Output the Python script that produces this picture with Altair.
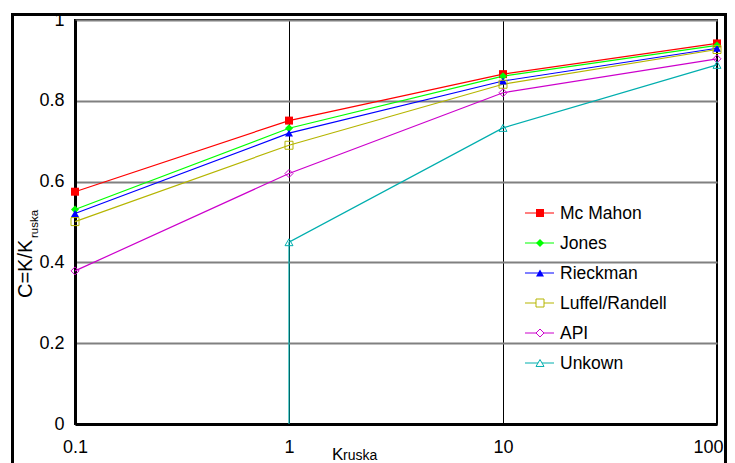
import altair as alt
import pandas as pd

# ---- data ----
kruska = [0.1, 1, 10, 100]
series = ["Mc Mahon", "Jones", "Rieckman", "Luffel/Randell", "API", "Unkown"]
mcmahon = [0.575, 0.751, 0.866, 0.942]
jones = [0.531, 0.732, 0.861, 0.937]
rieckman = [0.521, 0.720, 0.849, 0.930]
luffel = [0.501, 0.690, 0.841, 0.927]
api = [0.379, 0.620, 0.820, 0.904]
unkown_x = [1, 1, 10, 100]
unkown = [0.0, 0.450, 0.733, 0.889]
colors = ["#FF0000", "#00FF00", "#0000FF", "#B5B500", "#CC00CC", "#00AEAE"]
shapes = ["square", "diamond", "triangle-up", "square", "diamond", "triangle-up"]
filled = [True, True, True, False, False, False]
y_ticks = [0, 0.2, 0.4, 0.6, 0.8, 1]

rows = []
for name, vals in zip(series[:5], [mcmahon, jones, rieckman, luffel, api]):
    for i, (xv, yv) in enumerate(zip(kruska, vals)):
        rows.append({"series": name, "x": xv, "y": yv, "i": i,
                     "filled": filled[series.index(name)], "marker": True})
for i, (xv, yv) in enumerate(zip(unkown_x, unkown)):
    rows.append({"series": "Unkown", "x": xv, "y": yv, "i": i,
                 "filled": False, "marker": yv > 0})
df = pd.DataFrame(rows)

leg = pd.DataFrame({"series": series, "idx": list(range(len(series))), "filled": filled})
one = pd.DataFrame({"a": [0]})

FONT = "Liberation Sans"
color = alt.Color("series:N", scale=alt.Scale(domain=series, range=colors), legend=None)
shape = alt.Shape("series:N", scale=alt.Scale(domain=series, range=shapes), legend=None)

xenc = alt.X("x:Q", scale=alt.Scale(type="log", domain=[0.1, 100], nice=False),
             axis=alt.Axis(values=kruska, format="~g", grid=True, gridColor="black",
                           gridWidth=1, ticks=False, domainColor="black", domainWidth=3,
                           labelFont=FONT, labelFontSize=18, labelColor="black",
                           labelPadding=14, labelFlush=False,
                           labelAlign={"condition": {"test": "datum.value >= 100", "value": "right"},
                                       "value": "center"},
                           labelOffset={"condition": {"test": "datum.value >= 100", "value": 6},
                                        "value": 0},
                           title=None))
yenc = alt.Y("y:Q", scale=alt.Scale(domain=[0, 1], nice=False),
             axis=alt.Axis(values=y_ticks, format="~g", grid=True, gridColor="#808080",
                           gridWidth=2, ticks=False, domainColor="black", domainWidth=3,
                           labelFont=FONT, labelFontSize=18, labelColor="black",
                           labelPadding=11, title=None))

base = alt.Chart(df)
lines = base.mark_line(strokeWidth=1.2).encode(
    x=xenc, y=yenc, color=color, detail="series:N", order=alt.Order("i:Q"))
pts_f = base.transform_filter("datum.marker && datum.filled").mark_point(
    filled=True, size=64, opacity=1).encode(x="x:Q", y="y:Q", color=color, shape=shape)
pts_h = base.transform_filter("datum.marker && !datum.filled").mark_point(
    filled=False, size=64, opacity=1, strokeWidth=1).encode(x="x:Q", y="y:Q", color=color, shape=shape)
main = alt.layer(lines, pts_f, pts_h)

ly = alt.Y("idx:Q", scale=alt.Scale(domain=[0, 5], range=[193, 343]), axis=None)
lbase = alt.Chart(leg)
leg_rule = lbase.mark_rule(strokeWidth=1).encode(
    x=alt.value(450), x2=alt.value(479), y=ly, color=color)
leg_pf = lbase.transform_filter("datum.filled").mark_point(
    filled=True, size=64, opacity=1).encode(x=alt.value(465), y=ly, color=color, shape=shape)
leg_ph = lbase.transform_filter("!datum.filled").mark_point(
    filled=False, size=64, opacity=1, strokeWidth=1, fill="white", fillOpacity=1).encode(
    x=alt.value(465), y=ly, color=color, shape=shape)
leg_txt = lbase.mark_text(align="left", baseline="middle", font=FONT, fontSize=17.5,
                          color="black", dy=1).encode(
    x=alt.value(485), y=ly, text="series:N")
legend = alt.layer(leg_rule, leg_pf, leg_ph, leg_txt)

ob = alt.Chart(one)
outer = ob.mark_rect(fillOpacity=0, stroke="black", strokeWidth=3).encode(
    x=alt.value(-62.5), x2=alt.value(650.5), y=alt.value(-5.5), y2=alt.value(480))
yt1 = ob.mark_text(align="left", baseline="alphabetic", angle=270, font=FONT,
                   fontSize=20, color="black").encode(
    x=alt.value(-43), y=alt.value(278), text=alt.value("C=K/K"))
yt2 = ob.mark_text(align="left", baseline="alphabetic", angle=270, font=FONT,
                   fontSize=11.5, color="black").encode(
    x=alt.value(-37), y=alt.value(218), text=alt.value("ruska"))
xt1 = ob.mark_text(align="left", baseline="alphabetic", font=FONT,
                   fontSize=17, color="black").encode(
    x=alt.value(257), y=alt.value(440), text=alt.value("K"))
xt2 = ob.mark_text(align="left", baseline="alphabetic", font=FONT,
                   fontSize=14, color="black").encode(
    x=alt.value(268), y=alt.value(440), text=alt.value("ruska"))
notes = alt.layer(outer, yt1, yt2, xt1, xt2)

chart = alt.layer(main, legend, notes).resolve_scale(y="independent").properties(
    width=642, height=404,
    autosize=alt.AutoSizeParams(type="none"),
    padding={"left": 67, "top": 12, "right": 10, "bottom": 39},
    background="white",
).configure_view(stroke="black", strokeWidth=2)

chart.save("out.html", embed_options={"renderer": "svg", "actions": False})
